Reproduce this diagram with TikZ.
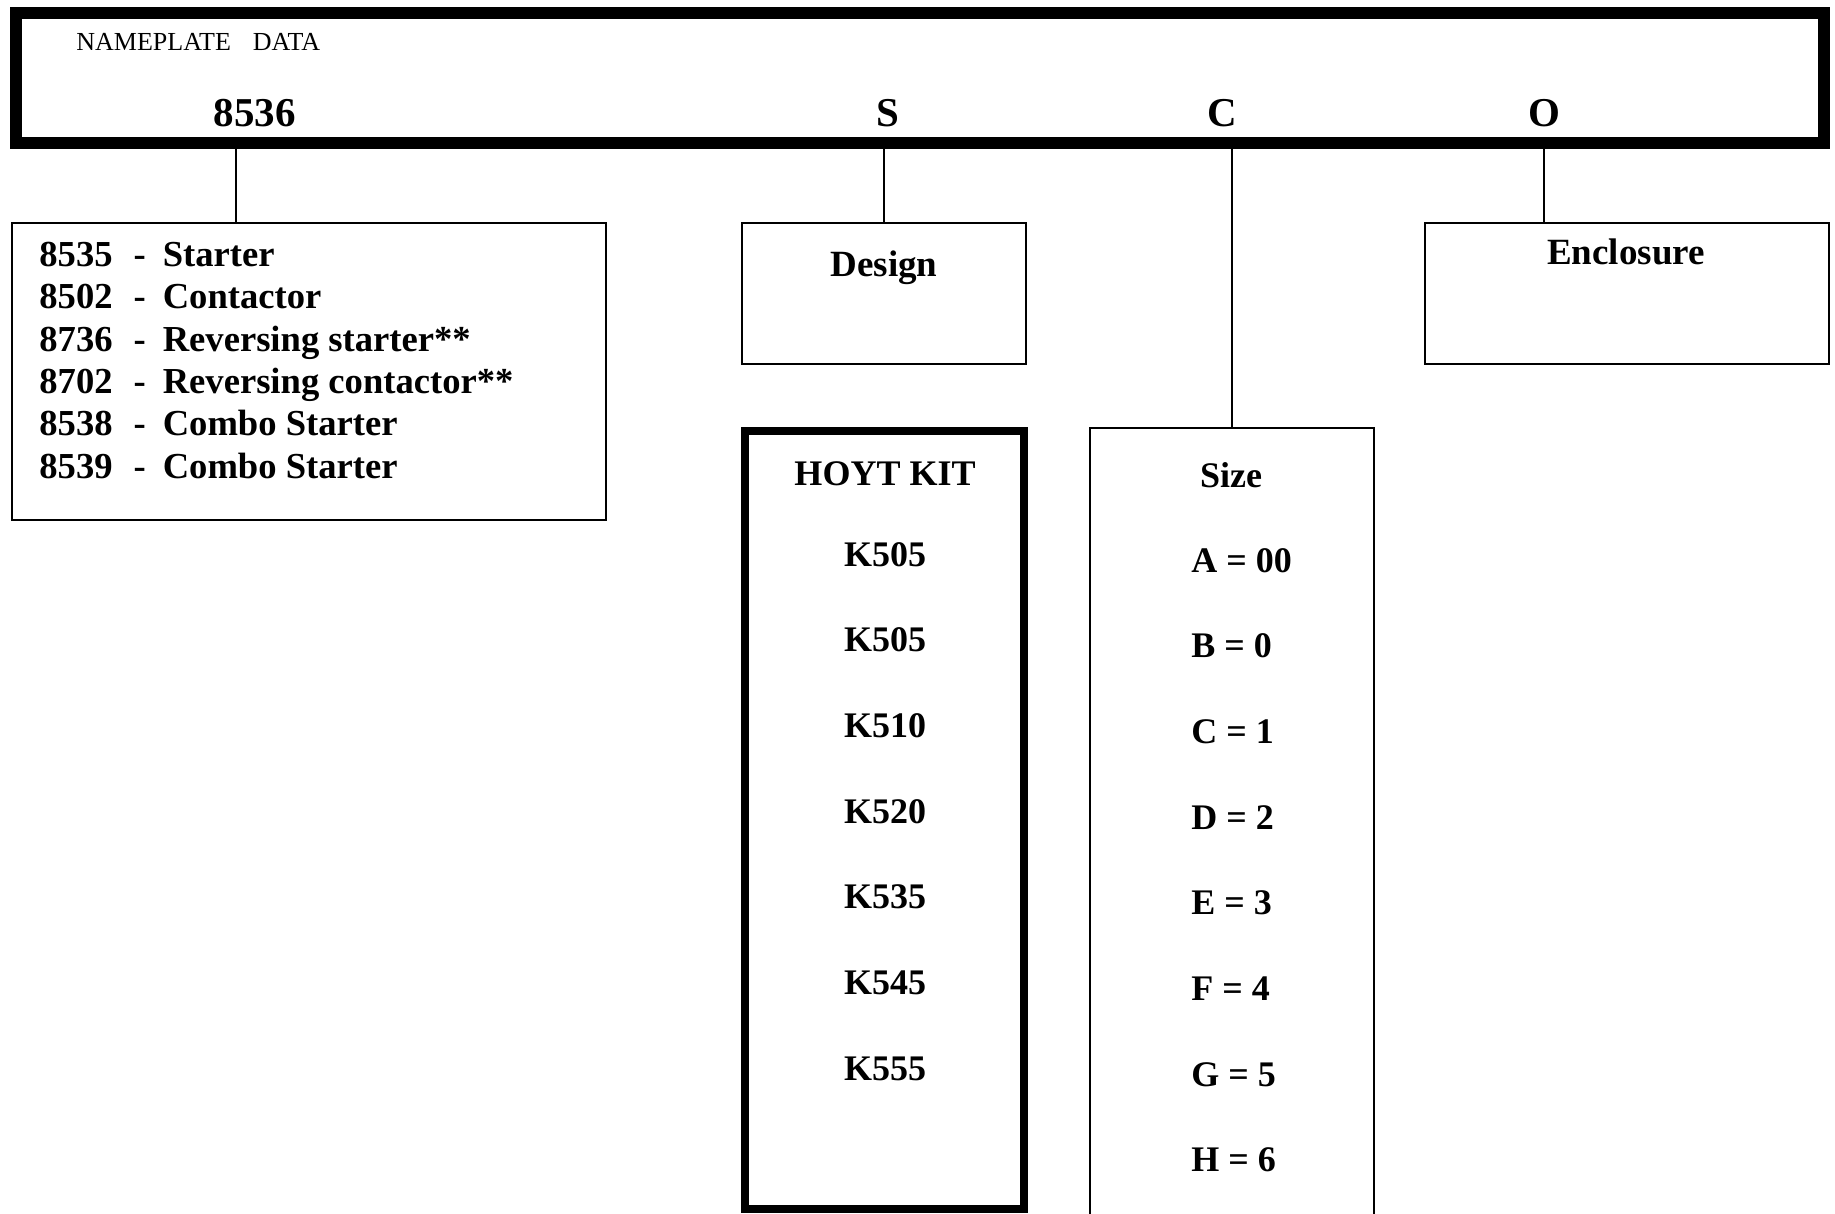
\documentclass[tikz,border=0pt]{standalone}
\usepackage{fontspec}
\setmainfont{Liberation Serif}
\begin{document}
\begin{tikzpicture}[x=0.5pt,y=-0.5pt,
  box/.style={draw, line width=1pt, rectangle, inner sep=0pt, outer sep=0pt},
  thickbox/.style={draw, line width=4pt, rectangle, inner sep=0pt, outer sep=0pt},
  link/.style={line width=0.8pt},
  bt/.style={font=\fontsize{18}{21.25}\selectfont\bfseries, inner sep=0pt, anchor=base},
  btl/.style={font=\fontsize{18}{21.25}\selectfont\bfseries, inner sep=0pt, anchor=base west},
  ttl/.style={font=\fontsize{18.5}{22}\selectfont\bfseries, inner sep=0pt, anchor=base},
  big/.style={font=\fontsize{20.5}{24}\selectfont\bfseries, inner sep=0pt, anchor=base}]
\clip (0,0) rectangle (1835,1214);
% nameplate frame
\node[draw, line width=6pt, rectangle, minimum width=904pt, minimum height=65pt, inner sep=0pt, outer sep=0pt] (plate) at (920,78) {};
\node[font=\fontsize{13}{15}\selectfont, anchor=base west, inner sep=0pt] (title) at (76,51) {NAMEPLATE\hspace{11pt}DATA};
\node[big] (f1) at (254.5,127) {8536};
\node[big] (f2) at (888,127) {S};
\node[big] (f3) at (1222,127) {C};
\node[big] (f4) at (1544,127) {O};
% boxes
\node[box, minimum width=297.25pt, minimum height=148.5pt] (types) at (308.75,371.5) {};
\node[box, minimum width=142pt, minimum height=70.5pt] (design) at (884,293.5) {};
\node[box, minimum width=202pt, minimum height=70.5pt] (encl) at (1627,293.5) {};
\node[thickbox, minimum width=139.5pt, minimum height=389.25pt] (hoyt) at (884.5,819.75) {};
\node[box, minimum width=142.25pt, minimum height=416pt] (size) at (1231.75,844) {};
% connectors
\coordinate (t1) at (236,143);
\coordinate (t4) at (1544,143);
\draw[link] (t1) -- (t1 |- types.north);
\draw[link] (design.north |- plate.south) -- (design.north);
\draw[link] (size.north |- plate.south) -- (size.north);
\draw[link] (t4) -- (t4 |- encl.north);
% list
\node[anchor=base west, inner sep=0pt, font=\fontsize{18.3}{21.25}\selectfont\bfseries] (list) at (39,266)
 {\begin{tabular}[t]{@{}l@{\hspace{10.5pt}}l@{\hspace{8.5pt}}l@{}}
 8535&-&Starter\\
 8502&-&Contactor\\
 8736&-&Reversing starter**\\
 8702&-&Reversing contactor**\\
 8538&-&Combo Starter\\
 8539&-&Combo Starter
 \end{tabular}};
% titles
\node[ttl] (designt) at (884,277) {Design};
\node[ttl] (enclt) at (1626,264) {Enclosure};
\node[bt] (hoytt) at (885,485) {HOYT KIT};
\node[bt] (sizet) at (1231,487) {Size};
% hoyt kits
\node[bt] (k1) at (885,566) {K505};
\node[bt] (k2) at (885,651.7) {K505};
\node[bt] (k3) at (885,737.4) {K510};
\node[bt] (k4) at (885,823.1) {K520};
\node[bt] (k5) at (885,908.8) {K535};
\node[bt] (k6) at (885,994.5) {K545};
\node[bt] (k7) at (885,1080.2) {K555};
% sizes
\node[btl] (s1) at (1191,572) {A = 00};
\node[btl] (s2) at (1191,657.7) {B = 0};
\node[btl] (s3) at (1191,743.4) {C = 1};
\node[btl] (s4) at (1191,829.1) {D = 2};
\node[btl] (s5) at (1191,914.8) {E = 3};
\node[btl] (s6) at (1191,1000.5) {F = 4};
\node[btl] (s7) at (1191,1086.2) {G = 5};
\node[btl] (s8) at (1191,1171.9) {H = 6};
\end{tikzpicture}
\end{document}
